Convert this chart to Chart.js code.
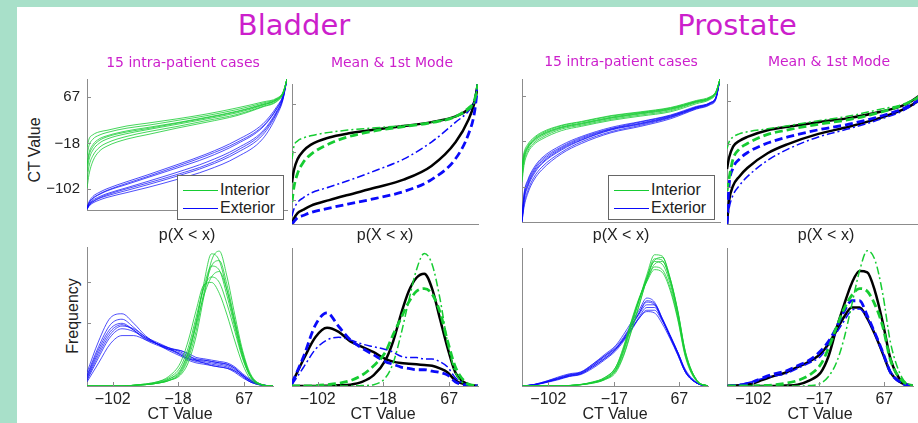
<!DOCTYPE html>
<html>
<head>
<meta charset="utf-8">
<script src="https://cdn.jsdelivr.net/npm/chart.js@4.4.0/dist/chart.umd.min.js"></script>
<style>
    html, body { margin: 0; padding: 0; }
    body { width: 918px; height: 423px; background: #a8e0c9; position: relative; overflow: hidden; font-family: 'Liberation Sans', Arial, sans-serif; }
    #hoja { position: absolute; left: 17px; top: 7px; right: 0; bottom: 0; background: #fff; }
    canvas { position: absolute; }
    .txt { position: absolute; white-space: nowrap; line-height: 1; transform: translate(-50%, -50%); color: #222; font-size: 16px; }
    .titulo { font-family: 'Comic Sans MS', 'DejaVu Sans', sans-serif; color: #cc1fcc; }
    .rot { transform: translate(-50%, -50%) rotate(-90deg); }
    .leyenda { position: absolute; background: #fff; border: 1px solid #666; z-index: 5; }
    .leyenda .linea { position: absolute; height: 0; border-top: 1px solid; }
    .leyenda .nombre { position: absolute; font-size: 16px; line-height: 1; color: #222; transform: translateY(-50%); }
</style>
</head>
<body>
<div id="hoja"></div>
<script>
// Rejillas comunes: probabilidad acumulada (fila de arriba) y valor CT (fila de abajo)
const gridP = [0, 0.01, 0.03, 0.06, 0.1, 0.2, 0.3, 0.45, 0.6, 0.75, 0.88, 0.95, 0.98, 1];
const gridCT = [-135, -120, -105, -90, -75, -60, -45, -30, -15, -5, 5, 15, 25, 35, 45, 55, 65, 75, 90, 104];
const ticksVejiga = [-102, -18, 67];
const ticksProstata = [-102, -17, 67];
const ticksFrecuencia = [0.46, 0.76];

// Vejiga: 15 casos intra-paciente (CDF inversa)
const vejigaInteriorCdf = [
    [-25, -10, -2, 3, 6, 14, 19, 27, 36, 47, 58, 65, 76, 100],
    [-40, -22, -10, -3, 2, 10, 15, 24, 33, 44, 56, 64, 75, 100],
    [-55, -35, -20, -10, -4, 5, 11, 20, 30, 41, 54, 63, 75, 100],
    [-70, -48, -30, -18, -10, 0, 7, 17, 27, 38, 52, 62, 74, 100],
    [-85, -60, -40, -26, -17, -5, 3, 13, 24, 35, 50, 60, 73, 100],
    [-100, -75, -50, -33, -23, -10, -2, 10, 21, 33, 49, 59, 73, 100],
    [-60, -40, -24, -13, -6, 3, 9, 19, 29, 40, 53, 62, 74, 100]
];
const vejigaExteriorCdf = [
    [-135, -125, -115, -108, -101, -88, -76, -57, -37, -12, 18, 50, 70, 100],
    [-137, -128, -119, -112, -105, -93, -81, -63, -44, -19, 12, 46, 68, 100],
    [-138, -130, -122, -116, -110, -99, -88, -71, -52, -27, 5, 42, 66, 100],
    [-139, -132, -125, -119, -114, -104, -94, -78, -60, -35, -2, 38, 64, 100],
    [-139, -133, -127, -122, -117, -108, -99, -84, -67, -43, -9, 34, 62, 100],
    [-136, -127, -118, -111, -104, -91, -79, -60, -40, -16, 14, 47, 69, 100],
    [-138, -131, -124, -118, -112, -101, -91, -75, -57, -31, 2, 40, 65, 100]
];

// Vejiga: media y primer modo (CDF)
const vejigaIntCdfMedia = [-71, -50, -30, -16, -5, 8, 15, 22, 28, 35, 45, 58, 70, 102];
const vejigaIntCdfModoA = [-105, -80, -55, -36, -22, -3, 9, 20, 27, 34, 45, 60, 72, 102];
const vejigaIntCdfModoB = [-30, -8, 2, 7, 11, 17, 21, 25, 29, 35, 45, 57, 70, 102];
const vejigaExtCdfMedia = [-144, -135, -125, -119, -112, -102, -93, -80, -66, -42, 0, 40, 68, 102];
const vejigaExtCdfModoA = [-144, -140, -133, -129, -124, -116, -109, -99, -87, -66, -29, 15, 50, 102];
const vejigaExtCdfModoB = [-130, -118, -106, -98, -90, -79, -68, -50, -30, 0, 35, 55, 72, 102];

// Próstata: 15 casos intra-paciente (CDF inversa)
const prostataInteriorCdf = [
    [-60, -38, -22, -10, 0, 13, 20, 31, 38, 46, 59, 66, 76, 99],
    [-68, -45, -27, -14, -4, 10, 17, 28, 36, 44, 57, 64, 75, 99],
    [-75, -50, -30, -17, -7, 8, 15, 26, 34, 42, 56, 63, 74, 99],
    [-85, -56, -34, -20, -10, 6, 13, 24, 32, 40, 55, 62, 73, 99],
    [-93, -62, -38, -23, -13, 3, 11, 22, 30, 38, 53, 61, 72, 99],
    [-72, -48, -28, -15, -5, 9, 16, 27, 35, 43, 57, 64, 75, 99],
    [-64, -42, -25, -12, -2, 12, 19, 30, 37, 45, 58, 65, 76, 99]
];
const prostataExteriorCdf = [
    [-160, -115, -88, -66, -48, -24, -8, 9, 20, 32, 48, 55, 66, 99],
    [-163, -122, -95, -72, -54, -29, -12, 6, 17, 30, 46, 54, 65, 99],
    [-165, -128, -101, -78, -59, -33, -15, 4, 15, 28, 45, 53, 64, 99],
    [-167, -135, -108, -84, -65, -37, -18, 1, 13, 27, 44, 52, 63, 99],
    [-167, -140, -113, -89, -70, -40, -21, -1, 11, 25, 43, 51, 62, 99],
    [-164, -125, -98, -75, -57, -31, -14, 5, 16, 29, 46, 54, 65, 99],
    [-162, -118, -91, -69, -51, -27, -10, 7, 19, 31, 47, 55, 66, 99]
];

// Próstata: media y primer modo (CDF)
const prostataIntCdfMedia = [-67, -45, -23, -12, -4, 9, 16, 25, 33, 45, 60, 78, 88, 100];
const prostataIntCdfModoA = [-110, -86, -47, -28, -17, 1, 10, 21, 30, 44, 61, 76, 88, 100];
const prostataIntCdfModoB = [-27, -14, -4, 2, 6, 12, 18, 28, 37, 50, 62, 77, 88, 100];
const prostataExtCdfMedia = [-175, -130, -100, -82, -65, -36, -18, 2, 16, 33, 52, 70, 84, 100];
const prostataExtCdfModoA = [-175, -100, -65, -48, -35, -16, -4, 10, 21, 36, 54, 71, 85, 100];
const prostataExtCdfModoB = [-175, -145, -118, -100, -82, -50, -28, -4, 12, 30, 50, 69, 84, 100];

// Vejiga: histogramas de los 15 casos (frecuencia relativa)
const vejigaInteriorPdf = [
    [0, 0, 0, 0, 0.005, 0.01, 0.02, 0.04, 0.1, 0.22, 0.45, 0.75, 0.97, 0.92, 0.7, 0.45, 0.22, 0.07, 0.008, 0],
    [0, 0, 0, 0, 0.005, 0.01, 0.02, 0.05, 0.12, 0.25, 0.47, 0.72, 0.88, 0.85, 0.66, 0.43, 0.21, 0.07, 0.008, 0],
    [0, 0, 0, 0, 0.005, 0.015, 0.03, 0.06, 0.14, 0.28, 0.5, 0.72, 0.8, 0.76, 0.6, 0.4, 0.2, 0.07, 0.008, 0],
    [0, 0, 0, 0, 0.005, 0.015, 0.03, 0.07, 0.17, 0.33, 0.55, 0.74, 0.76, 0.68, 0.52, 0.33, 0.16, 0.05, 0.006, 0],
    [0, 0, 0, 0, 0.005, 0.01, 0.02, 0.04, 0.08, 0.17, 0.36, 0.65, 0.92, 0.99, 0.8, 0.52, 0.26, 0.09, 0.01, 0],
    [0, 0, 0, 0, 0.005, 0.01, 0.02, 0.04, 0.09, 0.2, 0.4, 0.68, 0.88, 0.92, 0.74, 0.48, 0.24, 0.08, 0.01, 0],
    [0, 0, 0, 0, 0.005, 0.01, 0.025, 0.05, 0.11, 0.24, 0.44, 0.66, 0.8, 0.84, 0.7, 0.47, 0.24, 0.08, 0.01, 0]
];
const vejigaExteriorPdf = [
    [0.10, 0.33, 0.50, 0.53, 0.46, 0.37, 0.31, 0.26, 0.22, 0.19, 0.17, 0.16, 0.15, 0.14, 0.13, 0.10, 0.06, 0.03, 0.005, 0],
    [0.08, 0.29, 0.45, 0.49, 0.43, 0.36, 0.31, 0.27, 0.23, 0.20, 0.18, 0.17, 0.16, 0.15, 0.14, 0.11, 0.07, 0.03, 0.005, 0],
    [0.06, 0.25, 0.40, 0.45, 0.41, 0.35, 0.31, 0.27, 0.24, 0.21, 0.19, 0.18, 0.17, 0.16, 0.15, 0.12, 0.08, 0.04, 0.008, 0],
    [0.04, 0.21, 0.36, 0.42, 0.40, 0.35, 0.31, 0.28, 0.25, 0.22, 0.20, 0.19, 0.18, 0.17, 0.16, 0.13, 0.08, 0.04, 0.008, 0],
    [0.03, 0.17, 0.31, 0.37, 0.37, 0.34, 0.31, 0.28, 0.26, 0.24, 0.21, 0.20, 0.19, 0.18, 0.17, 0.14, 0.09, 0.05, 0.01, 0],
    [0.07, 0.27, 0.42, 0.46, 0.41, 0.34, 0.30, 0.27, 0.26, 0.23, 0.19, 0.17, 0.15, 0.14, 0.13, 0.11, 0.07, 0.03, 0.005, 0],
    [0.05, 0.23, 0.38, 0.44, 0.42, 0.36, 0.32, 0.28, 0.23, 0.20, 0.19, 0.19, 0.18, 0.17, 0.16, 0.13, 0.08, 0.04, 0.008, 0]
];

// Vejiga: media y primer modo (histograma)
const vejigaIntPdfMedia = [0, 0, 0, 0.002, 0.005, 0.01, 0.03, 0.08, 0.19, 0.33, 0.53, 0.7, 0.8, 0.83, 0.72, 0.5, 0.28, 0.1, 0.015, 0];
const vejigaIntPdfModoA = [0, 0, 0.003, 0.01, 0.02, 0.04, 0.08, 0.15, 0.25, 0.38, 0.5, 0.62, 0.7, 0.72, 0.68, 0.55, 0.33, 0.14, 0.02, 0];
const vejigaIntPdfModoB = [0, 0, 0, 0, 0, 0, 0.003, 0.01, 0.06, 0.17, 0.38, 0.63, 0.86, 0.98, 0.9, 0.65, 0.32, 0.1, 0.01, 0];
const vejigaExtPdfMedia = [0.02, 0.2, 0.36, 0.43, 0.4, 0.33, 0.29, 0.25, 0.2, 0.18, 0.17, 0.165, 0.16, 0.155, 0.15, 0.13, 0.1, 0.04, 0.01, 0];
const vejigaExtPdfModoA = [0.02, 0.22, 0.45, 0.54, 0.44, 0.34, 0.28, 0.23, 0.18, 0.16, 0.14, 0.13, 0.12, 0.12, 0.11, 0.1, 0.08, 0.03, 0.005, 0];
const vejigaExtPdfModoB = [0.01, 0.14, 0.27, 0.34, 0.36, 0.34, 0.31, 0.29, 0.27, 0.25, 0.22, 0.21, 0.21, 0.2, 0.2, 0.18, 0.14, 0.06, 0.01, 0];

// Próstata: histogramas de los 15 casos
const prostataInteriorPdf = [
    [0, 0, 0, 0, 0.003, 0.01, 0.025, 0.05, 0.12, 0.25, 0.44, 0.63, 0.82, 0.97, 0.96, 0.8, 0.55, 0.24, 0.04, 0],
    [0, 0, 0, 0, 0.003, 0.01, 0.025, 0.055, 0.13, 0.27, 0.46, 0.64, 0.8, 0.92, 0.9, 0.76, 0.52, 0.23, 0.035, 0],
    [0, 0, 0, 0, 0.004, 0.012, 0.03, 0.06, 0.14, 0.29, 0.48, 0.65, 0.78, 0.88, 0.86, 0.73, 0.5, 0.22, 0.035, 0],
    [0, 0, 0, 0, 0.003, 0.01, 0.022, 0.045, 0.11, 0.23, 0.41, 0.6, 0.78, 0.9, 0.92, 0.79, 0.55, 0.25, 0.04, 0],
    [0, 0, 0, 0, 0.004, 0.012, 0.028, 0.06, 0.14, 0.28, 0.47, 0.64, 0.77, 0.86, 0.84, 0.71, 0.49, 0.21, 0.03, 0],
    [0, 0, 0, 0, 0.003, 0.01, 0.025, 0.05, 0.12, 0.26, 0.45, 0.63, 0.8, 0.94, 0.93, 0.78, 0.53, 0.23, 0.035, 0],
    [0, 0, 0, 0, 0.003, 0.009, 0.02, 0.045, 0.1, 0.22, 0.4, 0.59, 0.79, 0.93, 0.95, 0.8, 0.56, 0.25, 0.04, 0]
];
const prostataExteriorPdf = [
    [0, 0.012, 0.035, 0.06, 0.085, 0.1, 0.16, 0.23, 0.3, 0.38, 0.47, 0.56, 0.65, 0.62, 0.5, 0.37, 0.24, 0.1, 0.02, 0],
    [0, 0.01, 0.03, 0.055, 0.08, 0.095, 0.15, 0.22, 0.29, 0.36, 0.45, 0.54, 0.62, 0.6, 0.49, 0.37, 0.24, 0.11, 0.02, 0],
    [0, 0.01, 0.028, 0.05, 0.075, 0.09, 0.14, 0.2, 0.27, 0.34, 0.42, 0.51, 0.58, 0.58, 0.49, 0.37, 0.25, 0.11, 0.02, 0],
    [0, 0.008, 0.025, 0.045, 0.07, 0.085, 0.13, 0.19, 0.26, 0.33, 0.41, 0.5, 0.56, 0.56, 0.48, 0.37, 0.25, 0.12, 0.025, 0],
    [0, 0.012, 0.035, 0.065, 0.09, 0.105, 0.16, 0.22, 0.28, 0.34, 0.42, 0.5, 0.55, 0.54, 0.46, 0.35, 0.23, 0.1, 0.02, 0],
    [0, 0.01, 0.03, 0.055, 0.08, 0.1, 0.15, 0.21, 0.28, 0.35, 0.44, 0.53, 0.6, 0.6, 0.5, 0.38, 0.25, 0.11, 0.02, 0],
    [0, 0.009, 0.027, 0.05, 0.072, 0.09, 0.14, 0.2, 0.27, 0.35, 0.44, 0.54, 0.63, 0.61, 0.49, 0.36, 0.23, 0.1, 0.02, 0]
];

// Próstata: media y primer modo (histograma)
const prostataIntPdfMedia = [0, 0, 0, 0, 0, 0.003, 0.01, 0.04, 0.1, 0.22, 0.42, 0.6, 0.76, 0.85, 0.84, 0.7, 0.47, 0.2, 0.03, 0];
const prostataIntPdfModoA = [0, 0, 0, 0.003, 0.008, 0.02, 0.04, 0.08, 0.16, 0.28, 0.43, 0.57, 0.67, 0.72, 0.7, 0.6, 0.44, 0.19, 0.04, 0];
const prostataIntPdfModoB = [0, 0, 0, 0, 0, 0, 0, 0.003, 0.02, 0.07, 0.17, 0.35, 0.6, 0.85, 1.0, 0.93, 0.68, 0.32, 0.06, 0];
const prostataExtPdfMedia = [0, 0.005, 0.015, 0.045, 0.075, 0.1, 0.14, 0.18, 0.24, 0.31, 0.41, 0.51, 0.58, 0.58, 0.5, 0.38, 0.24, 0.1, 0.02, 0];
const prostataExtPdfModoA = [0, 0.008, 0.025, 0.06, 0.09, 0.11, 0.15, 0.19, 0.26, 0.33, 0.43, 0.55, 0.63, 0.63, 0.52, 0.39, 0.25, 0.1, 0.02, 0];
const prostataExtPdfModoB = [0, 0.01, 0.03, 0.055, 0.075, 0.09, 0.13, 0.17, 0.22, 0.3, 0.39, 0.48, 0.56, 0.57, 0.5, 0.39, 0.25, 0.11, 0.02, 0];

const GRIS = '#8c8c8c';
const VERDE = 'rgb(22,204,50)';
const AZUL = 'rgb(10,10,250)';
const VERDE_T = 'rgba(22,204,50,0.8)';
const AZUL_T = 'rgba(10,10,250,0.72)';
const RAYA = [8, 4];
const RAYA_PUNTO = [8, 3, 2, 3];

Chart.defaults.font.family = "'Liberation Sans', Arial, sans-serif";

// Marcas de tick hacia dentro del área (estilo MATLAB)
const ticksInternos = {
    id: 'ticksInternos',
    afterDraw(chart, args, opts) {
        const ctx = chart.ctx, a = chart.chartArea;
        ctx.save();
        ctx.strokeStyle = GRIS;
        ctx.lineWidth = 1;
        ctx.beginPath();
        if (opts.x) {
            chart.scales.x.ticks.forEach(t => {
                const px = Math.round(chart.scales.x.getPixelForValue(t.value)) + 0.5;
                ctx.moveTo(px, a.bottom);
                ctx.lineTo(px, a.bottom - 4);
            });
        }
        if (opts.y) {
            chart.scales.y.ticks.forEach(t => {
                const py = Math.round(chart.scales.y.getPixelForValue(t.value)) + 0.5;
                ctx.moveTo(a.left, py);
                ctx.lineTo(a.left + 4, py);
            });
        }
        ctx.stroke();
        ctx.restore();
    }
};

function formatoTick(v) {
    return v < 0 ? '\u2212' + Math.abs(v) : String(v);
}

function eje(min, max, ticks, conEtiquetas, tam, dir, fuente, relleno) {
    return {
        type: 'linear', min: min, max: max,
        border: { display: true, color: GRIS, width: 1 },
        grid: { display: true, drawOnChartArea: false, drawTicks: false },
        ticks: { display: conEtiquetas, color: '#222', padding: relleno, font: { size: fuente }, callback: v => formatoTick(v) },
        afterBuildTicks: s => { s.ticks = ticks.map(v => ({ value: v })); },
        afterFit: s => { if (dir === 'x') s.height = tam; else s.width = tam; }
    };
}

function curva(grid, vals, color, ancho, dash) {
    return {
        data: grid.map((x, i) => ({ x: x, y: vals[i] })),
        borderColor: color, borderWidth: ancho, borderDash: dash || [],
        fill: false, pointRadius: 0, cubicInterpolationMode: 'monotone'
    };
}

function crearPanel(p) {
    const padL = p.padL || 4, padT = 16, padR = 16, padB = p.padB || 3;
    const w = p.r - p.l + padL + padR, h = p.b - p.t + padT + padB;
    const cv = document.createElement('canvas');
    cv.width = w; cv.height = h;
    cv.style.cssText = `left:${p.l - padL}px;top:${p.t - padT}px;width:${w}px;height:${h}px`;
    document.body.appendChild(cv);
    return new Chart(cv, {
        type: 'line',
        data: { datasets: p.datasets },
        options: {
            responsive: false, animation: false, events: [],
            layout: { padding: { left: 0, top: padT, right: padR, bottom: 0 } },
            plugins: { legend: { display: false }, tooltip: { enabled: false }, ticksInternos: { x: !!p.marcasX, y: !!p.marcasY } },
            scales: {
                x: eje(p.xMin, p.xMax, p.xTicks || [p.xMin, p.xMax], !!p.xEtiquetas, padB, 'x', 16, 4),
                y: eje(p.yMin, p.yMax, p.yTicks || [p.yMin, p.yMax], !!p.yEtiquetas, padL, 'y', 15, 7)
            }
        },
        plugins: [ticksInternos]
    });
}

function casos(grid, interior, exterior) {
    return [
        ...interior.map(v => curva(grid, v, VERDE_T, 1)),
        ...exterior.map(v => curva(grid, v, AZUL_T, 1))
    ];
}

function mediaModo(grid, intMedia, intA, intB, extMedia, extA, extB) {
    return [
        curva(grid, intA, VERDE, 2.8, RAYA),
        curva(grid, intB, VERDE, 1.5, RAYA_PUNTO),
        curva(grid, extA, AZUL, 2.8, RAYA),
        curva(grid, extB, AZUL, 1.5, RAYA_PUNTO),
        curva(grid, intMedia, '#000', 2.5),
        curva(grid, extMedia, '#000', 2.5)
    ];
}

// Fila de arriba: CDF inversas
crearPanel({ l: 87, t: 79, r: 287, b: 223, xMin: 0, xMax: 1, yMin: -140, yMax: 100,
    yTicks: ticksVejiga, yEtiquetas: true, marcasY: true, padL: 44,
    datasets: casos(gridP, vejigaInteriorCdf, vejigaExteriorCdf) });
crearPanel({ l: 292, t: 84, r: 478, b: 224, xMin: 0, xMax: 1, yMin: -144, yMax: 102,
    yTicks: ticksVejiga, marcasY: true,
    datasets: mediaModo(gridP, vejigaIntCdfMedia, vejigaIntCdfModoA, vejigaIntCdfModoB, vejigaExtCdfMedia, vejigaExtCdfModoA, vejigaExtCdfModoB) });
crearPanel({ l: 522, t: 79, r: 720, b: 222, xMin: 0, xMax: 1, yMin: -167, yMax: 99,
    yTicks: ticksProstata, marcasY: true,
    datasets: casos(gridP, prostataInteriorCdf, prostataExteriorCdf) });
crearPanel({ l: 727, t: 84, r: 930, b: 224, xMin: 0, xMax: 1, yMin: -175, yMax: 100,
    yTicks: ticksProstata, marcasY: true,
    datasets: mediaModo(gridP, prostataIntCdfMedia, prostataIntCdfModoA, prostataIntCdfModoB, prostataExtCdfMedia, prostataExtCdfModoA, prostataExtCdfModoB) });

// Fila de abajo: histogramas
crearPanel({ l: 87, t: 247, r: 273, b: 386, xMin: -135, xMax: 104, yMin: 0, yMax: 1.02,
    xTicks: ticksVejiga, xEtiquetas: true, marcasX: true, yTicks: ticksFrecuencia, marcasY: true, padB: 28,
    datasets: casos(gridCT, vejigaInteriorPdf, vejigaExteriorPdf) });
crearPanel({ l: 292, t: 248, r: 478, b: 386, xMin: -135, xMax: 104, yMin: 0, yMax: 1.02,
    xTicks: ticksVejiga, xEtiquetas: true, marcasX: true, padB: 28,
    datasets: mediaModo(gridCT, vejigaIntPdfMedia, vejigaIntPdfModoA, vejigaIntPdfModoB, vejigaExtPdfMedia, vejigaExtPdfModoA, vejigaExtPdfModoB) });
crearPanel({ l: 522, t: 248, r: 708, b: 386, xMin: -136, xMax: 104, yMin: 0, yMax: 1.02,
    xTicks: ticksProstata, xEtiquetas: true, marcasX: true, padB: 28,
    datasets: casos(gridCT, prostataInteriorPdf, prostataExteriorPdf) });
crearPanel({ l: 727, t: 248, r: 913, b: 386, xMin: -136, xMax: 104, yMin: 0, yMax: 1.02,
    xTicks: ticksProstata, xEtiquetas: true, marcasX: true, padB: 28,
    datasets: mediaModo(gridCT, prostataIntPdfMedia, prostataIntPdfModoA, prostataIntPdfModoB, prostataExtPdfMedia, prostataExtPdfModoA, prostataExtPdfModoB) });

// Textos
function texto(t, x, y, clase, tam) {
    const d = document.createElement('div');
    d.className = 'txt ' + (clase || '');
    d.textContent = t;
    d.style.left = x + 'px';
    d.style.top = y + 'px';
    if (tam) d.style.fontSize = tam + 'px';
    document.body.appendChild(d);
}

texto('Bladder', 294, 25, 'titulo', 29);
texto('Prostate', 737, 25, 'titulo', 29);
texto('15 intra-patient cases', 183, 62, 'titulo', 14);
texto('Mean & 1st Mode', 392, 62, 'titulo', 14);
texto('15 intra-patient cases', 621, 61, 'titulo', 14);
texto('Mean & 1st Mode', 829, 61, 'titulo', 14);

texto('CT Value', 35, 150, 'rot', 16);
texto('Frequency', 73, 316, 'rot', 16);
[187, 385, 621, 826].forEach(x => texto('p(X < x)', x, 235, '', 16));
[180, 383, 615, 820].forEach(x => texto('CT Value', x, 414, '', 16));

// Leyendas Interior / Exterior
function leyenda(x, y) {
    const c = document.createElement('div');
    c.className = 'leyenda';
    c.style.cssText = `left:${x}px;top:${y}px;width:105px;height:43px`;
    [['Interior', VERDE, 14], ['Exterior', AZUL, 32]].forEach(([nombre, color, yy]) => {
        const l = document.createElement('div');
        l.className = 'linea';
        l.style.cssText = `left:5px;top:${yy}px;width:35px;border-top-color:${color}`;
        c.appendChild(l);
        const n = document.createElement('div');
        n.className = 'nombre';
        n.textContent = nombre;
        n.style.left = '42px';
        n.style.top = yy + 'px';
        c.appendChild(n);
    });
    document.body.appendChild(c);
}
leyenda(177, 175);
leyenda(608, 175);
</script>
</body>
</html>
